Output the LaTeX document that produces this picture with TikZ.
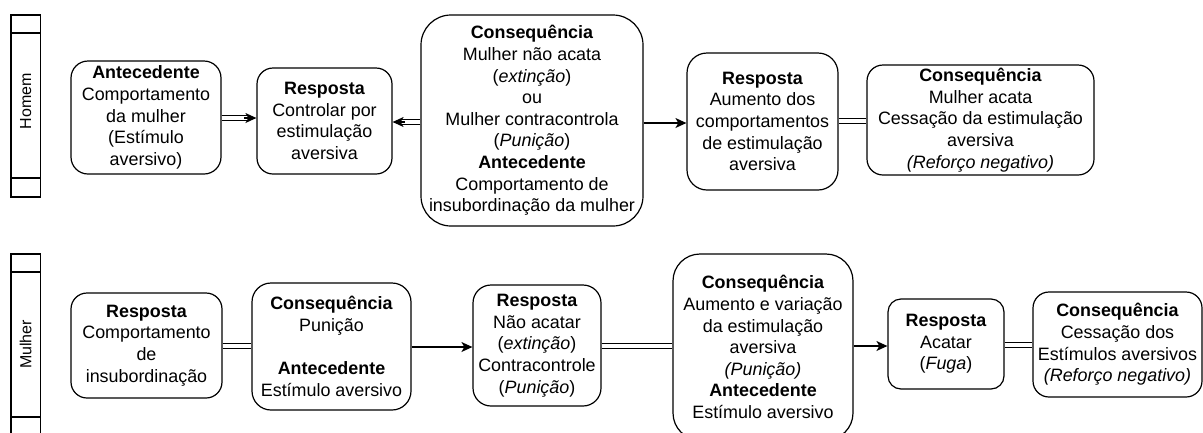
\documentclass[tikz,border=0pt]{standalone}
\usepackage{fontspec}
\setmainfont{Liberation Sans}
\usetikzlibrary{arrows.meta,calc}
\newcommand\bxfont{\fontsize{17.9}{21.6}\selectfont}
\begin{document}
\begin{tikzpicture}[x=1pt,y=-1pt,
  box/.style={draw, line width=1.2pt, align=center, inner sep=0pt, font=\bxfont},
  lane/.style={draw, line width=1.2pt},
  lanetext/.style={rotate=90, font=\fontsize{16}{19}\selectfont, inner sep=0pt},
  arr/.style={line width=1.3pt, -{Stealth[length=11pt,width=10pt,inset=3pt]}},
  plain/.style={line width=1.3pt},
  dbl/.style={line width=1.2pt, double, double distance=4.4pt}]
\useasboundingbox (0,0) rectangle (1203,432);
\fill[white] (0,0) rectangle (1203,432);
% lanes
\draw[lane] (11,15) rectangle (40.5,197);
\draw[lane] (11,33) -- (40.5,33);
\draw[lane] (11,178) -- (40.5,178);
\node[lanetext] (homem) at (25.7,101) {Homem};
\draw[lane] (11,440) -- (11,254) -- (40.5,254) -- (40.5,440);
\draw[lane] (11,272) -- (40.5,272);
\draw[lane] (11,417) -- (40.5,417);
\node[lanetext] (mulher) at (25.7,344.5) {Mulher};
% top row
\node[box, minimum width=150pt, minimum height=113pt, rounded corners=17pt] (A) at (146,117.5)
  {\textbf{Antecedente}\\Comportamento\\da mulher\\(Estímulo\\aversivo)};
\node[box, minimum width=135pt, minimum height=106pt, rounded corners=16pt] (B) at (324.5,121)
  {\textbf{Resposta}\\Controlar por\\estimulação\\aversiva};
\node[box, minimum width=222pt, minimum height=211pt, rounded corners=30pt] (C) at (532,120.5)
  {\textbf{Consequência}\\Mulher não acata\\(\textit{extinção})\\ou\\Mulher contracontrola\\(\textit{Punição})\\\textbf{Antecedente}\\Comportamento de\\insubordinação da mulher};
\node[box, minimum width=151pt, minimum height=137pt, rounded corners=20pt] (D) at (762.5,121.5)
  {\textbf{Resposta}\\Aumento dos\\comportamentos\\de estimulação\\aversiva};
\node[box, minimum width=227pt, minimum height=110pt, rounded corners=16pt] (E) at (980.5,120)
  {\textbf{Consequência}\\Mulher acata\\Cessação da estimulação\\aversiva\\\textit{(Reforço negativo)}};
% bottom row
\node[box, minimum width=151pt, minimum height=105pt, rounded corners=16pt] (F) at (146.5,345.5)
  {\textbf{Resposta}\\Comportamento\\de\\insubordinação};
\node[box, minimum width=159pt, minimum height=127pt, rounded corners=19pt] (G) at (331.5,346.5)
  {\textbf{Consequência}\\Punição\\~\\\textbf{Antecedente}\\Estímulo aversivo};
\node[box, minimum width=128pt, minimum height=121pt, rounded corners=18pt] (H) at (537,345.5)
  {\textbf{Resposta}\\Não acatar\\(\textit{extinção})\\Contracontrole\\(\textit{Punição})};
\node[box, minimum width=180pt, minimum height=186pt, rounded corners=27pt] (I) at (763,347)
  {\textbf{Consequência}\\Aumento e variação\\da estimulação\\aversiva\\\textit{(Punição)}\\\textbf{Antecedente}\\Estímulo aversivo};
\node[box, minimum width=116pt, minimum height=90pt, rounded corners=13pt] (J) at (946,344)
  {\textbf{Resposta}\\Acatar\\(\textit{Fuga})};
\node[box, minimum width=169pt, minimum height=105pt, rounded corners=16pt] (K) at (1117.5,344.5)
  {\textbf{Consequência}\\Cessação dos\\Estímulos aversivos\\\textit{(Reforço negativo)}};
% connector levels
\coordinate (yAB) at (0,118);
\coordinate (yCB) at (0,122);
\coordinate (yCD) at (0,123);
\coordinate (yDE) at (0,121);
\coordinate (yFG) at (0,346);
\coordinate (yGH) at (0,347);
\coordinate (yHI) at (0,346);
\coordinate (yIJ) at (0,346);
\coordinate (yJK) at (0,345);
% top connectors
\draw[dbl] (A.east |- yAB) -- ($(B.west |- yAB)+(-8,0)$);
\draw[arr] ($(B.west |- yAB)+(-12,0)$) -- (B.west |- yAB);
\draw[dbl] (C.west |- yCB) -- ($(B.east |- yCB)+(8,0)$);
\draw[arr] ($(B.east |- yCB)+(12,0)$) -- (B.east |- yCB);
\draw[arr] (C.east |- yCD) -- (D.west |- yCD);
\draw[dbl] (D.east |- yDE) -- (E.west |- yDE);
% bottom connectors
\draw[dbl] (F.east |- yFG) -- (G.west |- yFG);
\draw[arr] (G.east |- yGH) -- (H.west |- yGH);
\draw[dbl] (H.east |- yHI) -- (I.west |- yHI);
\draw[arr] (I.east |- yIJ) -- (J.west |- yIJ);
\draw[dbl] (J.east |- yJK) -- (K.west |- yJK);
\end{tikzpicture}
\end{document}
